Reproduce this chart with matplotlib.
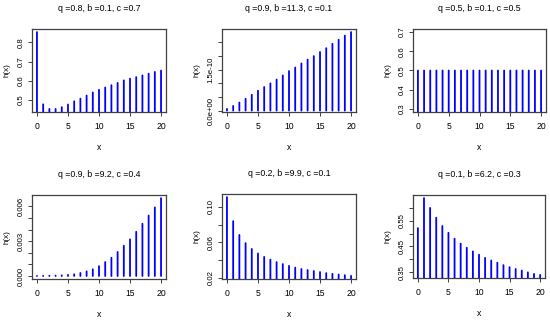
import matplotlib
matplotlib.use("Agg")
import matplotlib.pyplot as plt
import numpy as np

plt.rcParams['font.family'] = ['Liberation Sans Narrow', 'Liberation Sans', 'DejaVu Sans']
plt.rcParams['path.simplify'] = False

x = list(range(21))

titles = ["q =0.8, b =0.1, c =0.7", "q =0.9, b =11.3, c =0.1", "q =0.5, b =0.1, c =0.5",
          "q =0.9, b =9.2, c =0.4", "q =0.2, b =9.9, c =0.1", "q =0.1, b =6.2, c =0.3"]

h1 = [0.854, 0.477, 0.453, 0.453, 0.462, 0.476, 0.493, 0.507, 0.523, 0.539, 0.553,
      0.565, 0.577, 0.589, 0.602, 0.611, 0.619, 0.628, 0.637, 0.646, 0.653]
h2 = [0.62e-11, 1.73e-11, 2.97e-11, 4.33e-11, 5.82e-11, 7.3e-11, 8.66e-11, 10.0e-11,
      11.4e-11, 12.9e-11, 14.5e-11, 15.8e-11, 17.3e-11, 18.7e-11, 20.0e-11, 21.5e-11,
      22.9e-11, 24.5e-11, 26.0e-11, 27.5e-11, 28.8e-11]
h3 = [0.5] * 21
h4 = [0.00001, 0.00002, 0.00003, 0.00004, 0.00006, 0.0001, 0.00015, 0.00026, 0.0004,
      0.00058, 0.00085, 0.0012, 0.00157, 0.00207, 0.0026, 0.00315, 0.0038, 0.0045,
      0.0052, 0.0059, 0.0067]
h5 = [0.1108, 0.0838, 0.0683, 0.0592, 0.0526, 0.0476, 0.0437, 0.0406, 0.0379, 0.0356,
      0.0336, 0.0317, 0.0301, 0.029, 0.0278, 0.0267, 0.0255, 0.0247, 0.0239, 0.0232, 0.0224]
h6 = [0.521, 0.637, 0.599, 0.561, 0.529, 0.503, 0.480, 0.461, 0.445, 0.431, 0.418,
      0.406, 0.396, 0.387, 0.378, 0.370, 0.363, 0.357, 0.350, 0.344, 0.340]

series = [h1, h2, h3, h4, h5, h6]

yticks = [
    [0.5, 0.6, 0.7, 0.8],
    [0, 5e-11, 1e-10, 1.5e-10, 2e-10, 2.5e-10],
    [0.3, 0.4, 0.5, 0.6, 0.7],
    [0, 0.001, 0.002, 0.003, 0.004, 0.005, 0.006],
    [0.02, 0.04, 0.06, 0.08, 0.10],
    [0.35, 0.40, 0.45, 0.50, 0.55, 0.60],
]
ylabels = [
    ["0.5", "0.6", "0.7", "0.8"],
    ["0.0e+00", "", "", "1.5e-10", "", ""],
    ["0.3", "0.4", "0.5", "0.6", "0.7"],
    ["0.000", "", "", "0.003", "", "", "0.006"],
    ["0.02", "", "0.06", "", "0.10"],
    ["0.35", "", "0.45", "", "0.55", ""],
]
xticks = [0, 5, 10, 15, 20]

# axes boxes in pixels: left, right, top, bottom
boxes = [(32, 166, 29, 112), (222, 356, 29, 112), (413, 546, 29, 112),
         (32, 166, 195, 279), (222, 356, 194, 279), (413, 545, 195, 278)]

W, H = 550, 322
fig = plt.figure(figsize=(5.5, 3.22), dpi=100)
box_col = '#404040'

for i in range(6):
    l, r, t, b = boxes[i]
    ax = fig.add_axes([l / W, 1 - b / H, (r - l) / W, (b - t) / H])
    y = np.array(series[i])
    ymin, ymax = y.min(), y.max()
    if ymax == ymin:
        lo, hi = ymin * 0.6, ymax * 1.4
    else:
        lo, hi = ymin, ymax
    pad = 0.04 * (hi - lo)
    ax.set_ylim(lo - pad, hi + pad)
    ax.set_xlim(-0.8, 20.8)
    for xi, yi in zip(x, y):
        ax.plot([xi, xi], [0, yi], color='#0000FF', linewidth=1.3,
                solid_capstyle='round', snap=False)
    ax.set_xticks(xticks)
    ax.set_xticklabels([str(v) for v in xticks], fontsize=6.2)
    ax.set_yticks(yticks[i])
    ax.set_yticklabels(ylabels[i], fontsize=5.6, rotation=90, va='center')
    ax.tick_params(direction='out', length=3, width=0.7, color=box_col)
    ax.tick_params(axis='x', pad=4)
    ax.tick_params(axis='y', pad=2.5)
    for s in ax.spines.values():
        s.set_color(box_col)
        s.set_linewidth(0.9)
    ax.annotate(titles[i], xy=(0.5, 1), xycoords='axes fraction', xytext=(0, 15),
                textcoords='offset points', ha='center', va='center', fontsize=6.3)
    ax.annotate("x", xy=(0.5, 0), xycoords='axes fraction', xytext=(0, -25.5),
                textcoords='offset points', ha='center', va='center', fontsize=6.2)
    ax.annotate("h(x)", xy=(0, 0.5), xycoords='axes fraction', xytext=(-18, 0),
                textcoords='offset points', ha='center', va='center', fontsize=5.8,
                rotation=90)

fig.savefig("out.png", dpi=100)
